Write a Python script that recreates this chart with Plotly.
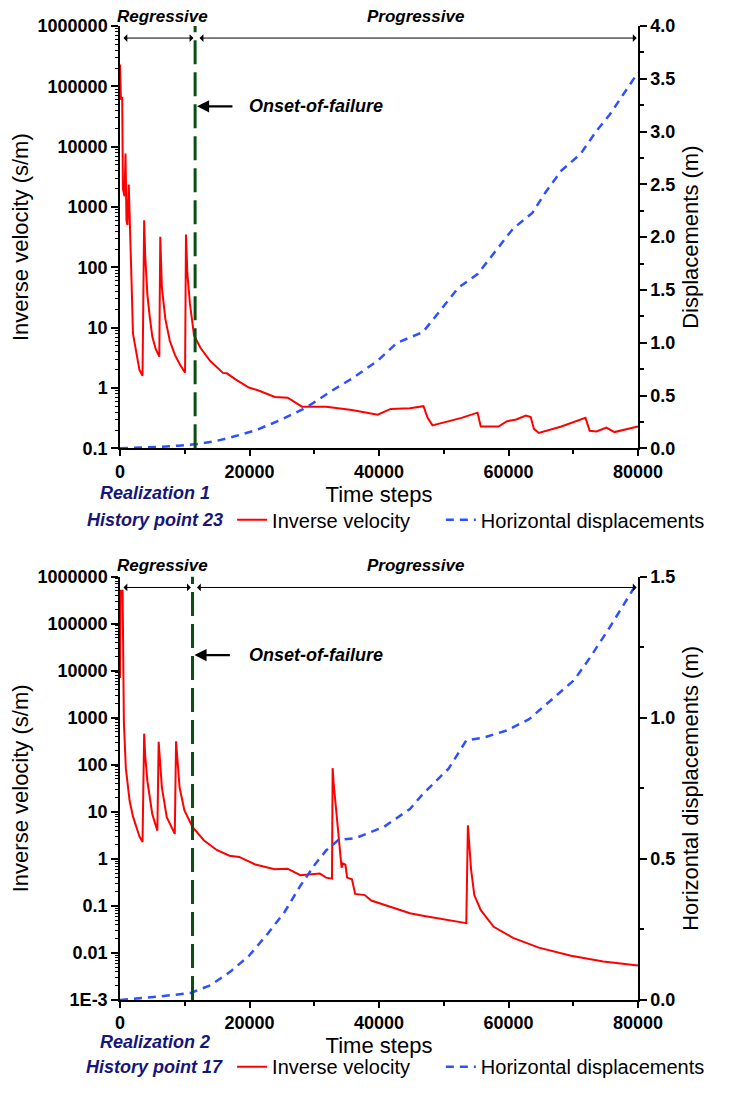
import plotly.graph_objects as go

# ---------------- data ----------------
# Panel 1: Realization 1, History point 23
t1_iv = [0, 150, 340, 450, 700, 850, 1000, 1150, 1350, 1500, 1800, 2000, 2300, 2600, 3000, 3480,
         3730, 3900, 4230, 4600, 5000, 5500, 6070, 6220, 6470, 7000, 7700, 8500, 9300, 10050,
         10190, 10400, 10800, 11440, 12440, 13940, 15900, 16500, 17900, 19900, 21400, 23900,
         25900, 28100, 29850, 31850, 35800, 39800, 41800, 44780, 46870, 47510, 48260, 50750,
         52740, 55220, 55720, 58460, 59700, 61190, 62690, 63430, 63930, 64680, 68160, 71890,
         72540, 73600, 75120, 76370, 79850, 80000]
iv1 = [230000, 60000, 67000, 2000, 1500, 7700, 600, 500, 2350, 440, 50, 8, 5, 3.5, 2.0, 1.6,
       600, 150, 35, 15, 7, 4.5, 3.3, 320, 46, 14, 6, 3.5, 2.4, 1.8,
       350, 80, 25, 7.4, 4.6, 2.8, 1.78, 1.75, 1.38, 1.02, 0.91, 0.71,
       0.69, 0.49, 0.49, 0.49, 0.43, 0.36, 0.45, 0.46, 0.50, 0.32, 0.24, 0.28,
       0.32, 0.39, 0.23, 0.23, 0.28, 0.30, 0.35, 0.33, 0.21, 0.18, 0.23, 0.32,
       0.195, 0.19, 0.22, 0.186, 0.23, 0.23]
t1_d = [0, 3000, 5970, 9000, 11940, 14500, 16900, 20900, 24880, 28850, 32840, 35820, 39800,
        42790, 46770, 49250, 52240, 55220, 57710, 60700, 63680, 65670, 68160, 71150, 73630,
        75620, 80000]
d1 = [0.0, 0.005, 0.014, 0.025, 0.04, 0.065, 0.10, 0.17, 0.27, 0.39, 0.55, 0.66, 0.83,
      1.0, 1.10, 1.29, 1.52, 1.65, 1.85, 2.08, 2.23, 2.42, 2.63, 2.79, 3.01,
      3.16, 3.56]

# Panel 2: Realization 2, History point 17
t2_iv = [0, 100, 400, 600, 900, 1490, 2000, 2490, 3000, 3480, 3730, 3900, 4230, 4980, 5770,
         5970, 6200, 6470, 7220, 8460, 8660, 8900, 9200, 9950, 11190, 12940, 14930, 16900,
         18400, 20900, 23880, 25870, 27860, 30850, 31840, 32740, 32840, 33000, 33330, 33830,
         34220, 34400, 34820, 35070, 35820, 36320, 37810, 38800, 41790, 44780, 46770, 50000,
         53480, 53730, 53900, 54220, 54720, 55720, 57710, 60700, 64680, 69650, 74630, 80000]
iv2 = [7000, 500000, 500000, 800, 85, 17, 8, 4.8, 3.0, 2.3, 460, 150, 45, 9, 4.0,
       310, 90, 33, 7.7, 3.4, 316, 90, 33, 10.7, 4.8, 2.5, 1.55, 1.17,
       1.1, 0.76, 0.60, 0.62, 0.45, 0.49, 0.40, 0.38, 85, 40, 12.6, 2.5,
       0.65, 0.8, 0.75, 0.40, 0.37, 0.18, 0.17, 0.13, 0.095, 0.07, 0.062, 0.052,
       0.043, 5.2, 2.0, 0.6, 0.17, 0.081, 0.036, 0.021, 0.013, 0.0087, 0.0066, 0.0054]
t2_d = [0, 5970, 10940, 13930, 16900, 19900, 22880, 25370, 27860, 30100, 31840, 33730,
        36320, 40790, 44780, 46770, 50750, 53480, 56220, 59700, 63180, 66660, 70150,
        72640, 75620, 79100, 80000]
d2 = [0.0, 0.012, 0.025, 0.052, 0.098, 0.156, 0.237, 0.31, 0.405, 0.48, 0.53, 0.567,
      0.573, 0.614, 0.677, 0.73, 0.82, 0.92, 0.93, 0.955, 0.995, 1.065, 1.134,
      1.215, 1.32, 1.45, 1.48]

onset1 = 11600
onset2 = 11200

x_tickvals = [0, 20000, 40000, 60000, 80000]
y1_tickvals = [0.1, 1, 10, 100, 1000, 10000, 100000, 1000000]
y1_ticktext = ["0.1", "1", "10", "100", "1000", "10000", "100000", "1000000"]
y3_tickvals = [0.001, 0.01, 0.1, 1, 10, 100, 1000, 10000, 100000, 1000000]
y3_ticktext = ["1E-3", "0.01", "0.1", "1", "10", "100", "1000", "10000", "100000", "1000000"]

# ---------------- styling ----------------
OFF = 8                                   # default page margin of the html body
W, H = 730 - 2 * OFF, 1106 - 2 * OFF      # figure fits the window exactly
L, R, T, B = 120, 656, 26, 1020          # plot area edges in page px


def px_x(px):
    return (px - L) / (R - L)


def px_y(py):
    return (B - py) / (B - T)


FONT = "Liberation Sans, Arial, sans-serif"
RED = "#ff0000"
BLUE = "#2f50ff"
GREEN = "#0b4f12"
NAVY = "#15157a"

tickfont = dict(family=FONT, size=18, color="black", weight="bold")
titlefont = dict(family=FONT, size=22, color="black")

top_dom = [px_y(457), 1.0]
bot_dom = [0.0, px_y(588)]


def minor_log(lo, hi):
    return [k * 10.0 ** e for e in range(lo, hi) for k in range(2, 10)]


RED_LINE = dict(color=RED, width=2)
BLUE_LINE = dict(color=BLUE, width=2.5, dash="8px,6px")

fig = go.Figure()
fig.add_trace(go.Scatter(x=t1_iv, y=iv1, xaxis="x", yaxis="y", mode="lines",
                         name="Inverse velocity", legend="legend", line=RED_LINE,
                         showlegend=True))
fig.add_trace(go.Scatter(x=t1_d, y=d1, xaxis="x", yaxis="y2", mode="lines",
                         name="Horizontal displacements", legend="legend2", line=BLUE_LINE,
                         showlegend=True))
fig.add_trace(go.Scatter(x=t2_iv, y=iv2, xaxis="x2", yaxis="y3", mode="lines",
                         name="Inverse velocity", legend="legend3", line=RED_LINE,
                         showlegend=True))
fig.add_trace(go.Scatter(x=t2_d, y=d2, xaxis="x2", yaxis="y4", mode="lines",
                         name="Horizontal displacements", legend="legend4", line=BLUE_LINE,
                         showlegend=True))

axline = dict(showline=True, linecolor="black", linewidth=1.5, showgrid=False,
              zeroline=False, automargin=False)


def xbottom(anchor):
    return dict(domain=[0, 1], anchor=anchor, range=[0, 80000], tickvals=x_tickvals,
                tickformat="d",
                ticks="outside", ticklen=6, tickwidth=1.5, tickcolor="black",
                minor=dict(ticks="outside", ticklen=4, tickwidth=1.5, tickcolor="black",
                           dtick=10000, tick0=0),
                tickfont=tickfont,
                title=dict(text="Time steps", font=titlefont, standoff=2), **axline)


def xtop(over, anchor):
    return dict(overlaying=over, anchor=anchor, side="top", range=[0, 80000],
                dtick=10000, tick0=0, ticks="inside", ticklen=7, tickwidth=1.5,
                tickcolor="black", showticklabels=False, **axline)


def yleft(dom, anchor, rng, vals, text, lo, hi):
    return dict(domain=dom, anchor=anchor, type="log", range=rng, tickvals=vals,
                ticktext=text, ticks="outside", ticklen=7, tickwidth=1.5, tickcolor="black",
                minor=dict(ticks="outside", ticklen=3.5, tickwidth=1, tickcolor="black",
                           tickvals=minor_log(lo, hi)),
                tickfont=tickfont,
                title=dict(text="Inverse velocity (s/m)", font=titlefont, standoff=7),
                **axline)


def yright(over, anchor, rng, title):
    return dict(overlaying=over, anchor=anchor, side="right", range=rng, dtick=0.5,
                tick0=0, tickformat=".1f", ticks="outside", ticklen=7, tickwidth=1.5,
                tickcolor="black",
                minor=dict(ticks="outside", ticklen=4, tickwidth=1.5, tickcolor="black",
                           dtick=0.25, tick0=0),
                tickfont=tickfont,
                title=dict(text=title, font=titlefont, standoff=8), **axline)


def leg(xpx, ypx):
    return dict(orientation="h", x=px_x(xpx), y=px_y(ypx), xanchor="left",
                yanchor="middle", bgcolor="rgba(0,0,0,0)",
                font=dict(family=FONT, size=20, color="black"))


fig.update_layout(
    width=W, height=H, template="none", showlegend=True,
    paper_bgcolor="white", plot_bgcolor="rgba(0,0,0,0)",
    margin=dict(l=L - OFF, r=W - (R - OFF), t=T - OFF, b=H - (B - OFF), pad=0),
    font=dict(family=FONT, color="black"),
    xaxis=xbottom("y"),
    xaxis3=xtop("x", "y"),
    yaxis=yleft(top_dom, "x", [-1, 6], y1_tickvals, y1_ticktext, -1, 6),
    yaxis2=yright("y", "x", [0, 4], "Displacements (m)"),
    xaxis2=xbottom("y3"),
    xaxis4=xtop("x2", "y3"),
    yaxis3=yleft(bot_dom, "x2", [-3, 6], y3_tickvals, y3_ticktext, -3, 6),
    yaxis4=yright("y3", "x2", [0, 1.5], "Horizontal displacements (m)"),
    legend=leg(236, 530),
    legend2=leg(452, 530),
    legend3=leg(236, 1088),
    legend4=leg(452, 1088),
)

ital = dict(family=FONT, size=17, color="black", weight="bold", style="italic")
onset_font = dict(family=FONT, size=18, color="black", weight="bold", style="italic")
navy_font = dict(family=FONT, size=18, color=NAVY, weight="bold", style="italic")

annotations = []
panels = [
    dict(xr="x", yd="y domain", onset=onset1, arr_y=38.3, onset_y=108, lab_y=16.7,
         real="Realization 1", hist="History point 23", real_y=503, hist_y=530),
    dict(xr="x2", yd="y3 domain", onset=onset2, arr_y=599, onset_y=668, lab_y=576.7,
         real="Realization 2", hist="History point 17", real_y=1063, hist_y=1088),
]
shapes = []
for p in panels:
    shapes.append(dict(type="line", xref=p["xr"], yref=p["yd"], x0=p["onset"], x1=p["onset"],
                       y0=0, y1=1, line=dict(color=GREEN, width=3, dash="24px,8px")))
    # phase arrows
    annotations.append(dict(xref=p["xr"], yref="paper", x=p["onset"] - 250, y=px_y(p["arr_y"]),
                            axref=p["xr"], ayref="pixel", ax=300, ay=0, text="",
                            showarrow=True, arrowside="end+start", arrowhead=1,
                            arrowsize=1.3, arrowwidth=1, arrowcolor="black",
                            standoff=0, startstandoff=0))
    annotations.append(dict(xref=p["xr"], yref="paper", x=79800, y=px_y(p["arr_y"]),
                            axref=p["xr"], ayref="pixel", ax=p["onset"] + 450, ay=0, text="",
                            showarrow=True, arrowside="end+start", arrowhead=1,
                            arrowsize=1.3, arrowwidth=1, arrowcolor="black",
                            standoff=0, startstandoff=0))
    # onset arrow
    annotations.append(dict(xref=p["xr"], yref="paper", x=p["onset"] + 300, y=px_y(p["onset_y"]),
                            axref=p["xr"], ayref="pixel", ax=p["onset"] + 6000, ay=0, text="",
                            showarrow=True, arrowhead=2, arrowsize=1.1, arrowwidth=2.2,
                            arrowcolor="black", standoff=0))
    annotations.append(dict(xref="paper", yref="paper", x=px_x(251), y=px_y(p["onset_y"]),
                            xanchor="left", yanchor="middle", text="Onset-of-failure",
                            showarrow=False, font=onset_font))
    annotations.append(dict(xref="paper", yref="paper", x=px_x(115), y=px_y(p["lab_y"]),
                            xanchor="left", yanchor="middle", text="Regressive",
                            showarrow=False, font=ital))
    annotations.append(dict(xref="paper", yref="paper", x=px_x(426), y=px_y(p["lab_y"]),
                            xanchor="center", yanchor="middle", text="Progressive",
                            showarrow=False, font=ital))
    annotations.append(dict(xref="paper", yref="paper", x=px_x(156), y=px_y(p["real_y"]),
                            xanchor="center", yanchor="middle", text=p["real"],
                            showarrow=False, font=navy_font))
    annotations.append(dict(xref="paper", yref="paper", x=px_x(156), y=px_y(p["hist_y"]),
                            xanchor="center", yanchor="middle", text=p["hist"],
                            showarrow=False, font=navy_font))

fig.update_layout(annotations=annotations, shapes=shapes)
fig.write_html("out.html", config={"displayModeBar": False})
